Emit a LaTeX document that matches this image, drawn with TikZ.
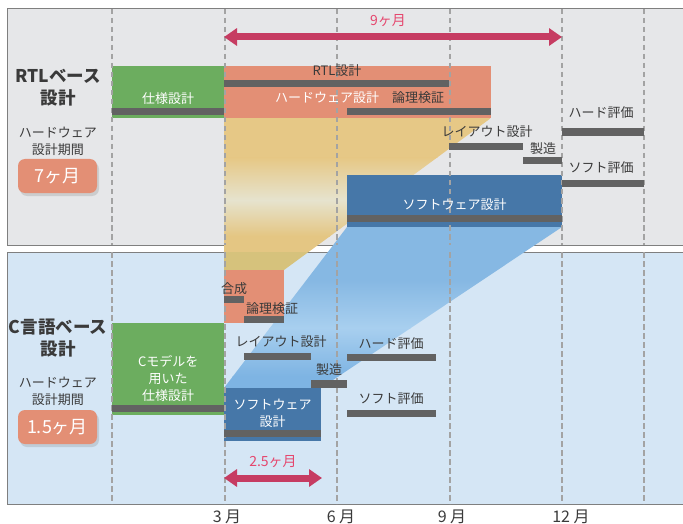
\documentclass[tikz,border=0pt]{standalone}
\usepackage{fontspec}
\setmainfont{Noto Sans CJK JP}
\usetikzlibrary{calc, arrows.meta, shadows}
\definecolor{rtlbg}{HTML}{E6E7E9}
\definecolor{cbg}{HTML}{D5E6F5}
\definecolor{frame}{HTML}{7F7F7F}
\definecolor{gridgrey}{HTML}{A3A3A3}
\definecolor{bargrey}{HTML}{626262}
\definecolor{specgreen}{HTML}{6CAD5F}
\definecolor{hwsalmon}{HTML}{E38F75}
\definecolor{swblue}{HTML}{4677A8}
\definecolor{spanred}{HTML}{C63C62}
\definecolor{spanpink}{HTML}{E5476E}
\definecolor{textgrey}{HTML}{3A3A3A}
\definecolor{handtop}{HTML}{E6C886}
\definecolor{handmid}{HTML}{E6E3CE}
\definecolor{handbot}{HTML}{E4C683}
\definecolor{handlow}{HTML}{D6C27C}
\definecolor{softtop}{HTML}{86B8E3}
\definecolor{softmid}{HTML}{A8CFEF}
\definecolor{softbot}{HTML}{7EB4E3}
\tikzstyle{panel} = [draw=frame, line width=0.9pt]
\tikzstyle{monthline} = [draw=gridgrey, line width=2pt, dash pattern=on 5.5pt off 3.5pt]
\tikzstyle{taskbox} = [rectangle, inner sep=0pt, anchor=north west]
\tikzstyle{bar} = [fill=bargrey]
\tikzstyle{tasktext} = [inner sep=0pt, text=textgrey, font=\fontsize{13}{17}\selectfont, align=center]
\tikzstyle{boxtext} = [tasktext, text=white]
\tikzstyle{heading} = [inner sep=0pt, text=textgrey, font=\bfseries\fontsize{17.5}{22}\selectfont, align=center]
\tikzstyle{periodbox} = [rectangle, rounded corners=7pt, fill=hwsalmon, text=white, minimum width=79pt, minimum height=34pt, font=\fontsize{18}{20}\selectfont, drop shadow={shadow xshift=2pt, shadow yshift=-3pt, opacity=0.25}]
\tikzstyle{spanarrow} = [draw=spanred, line width=7pt, {Triangle[length=13pt, width=17pt]}-{Triangle[length=13pt, width=17pt]}]
\tikzstyle{spantext} = [inner sep=0pt, text=spanpink, font=\fontsize{14}{16}\selectfont]
\tikzstyle{monthtext} = [inner sep=0pt, text=textgrey, font=\fontsize{16}{18}\selectfont]

\begin{document}
\begin{tikzpicture}[x=1pt, y=-1pt]
    \useasboundingbox (0,0) rectangle (683,524);

    % Panels
    \draw [panel, fill=rtlbg] (7,8.5) rectangle (690,245);
    \draw [panel, fill=cbg] (7,252) rectangle (690,504);

    % Hand-over regions
    \begin{scope}
        \clip (224,118) -- (491,118) -- (284,270) -- (224,270) -- cycle;
        \fill [handtop] (224,118) rectangle (491,158);
        \shade [top color=handtop, bottom color=handmid] (224,158) rectangle (491,200);
        \shade [top color=handmid, bottom color=handbot] (224,200) rectangle (491,236);
        \fill [handbot] (224,236) rectangle (491,252);
        \fill [handlow] (224,252) rectangle (491,270);
    \end{scope}
    \begin{scope}
        \clip (347,227) -- (562,227) -- (321,388) -- (224,388) -- cycle;
        \fill [softtop] (224,227) rectangle (562,280);
        \shade [top color=softtop, bottom color=softmid] (224,280) rectangle (562,328);
        \shade [top color=softmid, bottom color=softbot] (224,328) rectangle (562,376);
        \fill [softbot] (224,376) rectangle (562,388);
    \end{scope}

    % Task boxes
    \node (specbox) [taskbox, fill=specgreen, minimum width=112pt, minimum height=52pt] at (112,66) {};
    \node (hwbox) [taskbox, fill=hwsalmon, minimum width=267pt, minimum height=52pt] at (224,66) {};
    \node (swbox) [taskbox, fill=swblue, minimum width=215pt, minimum height=52pt] at (347,175) {};
    \node (cspecbox) [taskbox, fill=specgreen, minimum width=112pt, minimum height=92pt] at (112,323) {};
    \node (synthbox) [taskbox, fill=hwsalmon, minimum width=60pt, minimum height=53pt] at (224,270) {};
    \node (cswbox) [taskbox, fill=swblue, minimum width=97pt, minimum height=53pt] at (224,388) {};

    % Month lines
    \draw [monthline] (112,9) -- (112,245) (112,252) -- (112,504);
    \draw [monthline] (224.5,9) -- (224.5,245) (224.5,252) -- (224.5,504);
    \draw [monthline] (337,9) -- (337,245) (337,252) -- (337,504);
    \draw [monthline] (449.5,9) -- (449.5,245) (449.5,252) -- (449.5,504);
    \draw [monthline] (562,9) -- (562,245) (562,252) -- (562,504);
    \draw [monthline] (644,9) -- (644,245) (644,252) -- (644,504);

    % Bars
    \fill [bar] (112,108) rectangle (224,115);
    \fill [bar] (224,80) rectangle (449,87);
    \fill [bar] (347,108) rectangle (491,115);
    \fill [bar] (449,143) rectangle (523,150);
    \fill [bar] (523,157) rectangle (562,164);
    \fill [bar] (562,128) rectangle (644,136);
    \fill [bar] (562,180) rectangle (644,187);
    \fill [bar] (347,215) rectangle (562,222);
    \fill [bar] (112,405) rectangle (224,412);
    \fill [bar] (224,296) rectangle (244,303);
    \fill [bar] (244,316) rectangle (284,323);
    \fill [bar] (244,353) rectangle (311,360);
    \fill [bar] (311,380) rectangle (347,388);
    \fill [bar] (347,354) rectangle (436,361);
    \fill [bar] (347,410) rectangle (436,417);
    \fill [bar] (224,430) rectangle (321,437);

    % RTL texts
    \node (rtlhead) [heading] at (58,88) {RTLベース\\設計};
    \node (rtlperiodtext) [tasktext] at (58,141.5) {ハードウェア\\設計期間};
    \node (rtlperiod) [periodbox] at (57.5,176) {7ヶ月};
    \node (spectext) [boxtext] at ($(specbox.center)+(0,6)$) {仕様設計};
    \node (rtltext) [tasktext] at (337,71) {RTL設計};
    \node (hwtext) [boxtext] at (327,98) {ハードウェア設計};
    \node (logictext) [tasktext] at (418,98) {論理検証};
    \node (layouttext) [tasktext] at (487,132) {レイアウト設計};
    \node (fabtext) [tasktext] at (543,149) {製造};
    \node (hwevaltext) [tasktext] at (601,113) {ハード評価};
    \node (swevaltext) [tasktext] at (601,168) {ソフト評価};
    \node (swtext) [boxtext] at ($(swbox.center)+(0,3)$) {ソフトウェア設計};

    % C texts
    \node (chead) [heading] at (58,338.5) {C言語ベース\\設計};
    \node (cperiodtext) [tasktext] at (58,391.5) {ハードウェア\\設計期間};
    \node (cperiod) [periodbox] at (57.5,427) {1.5ヶ月};
    \node (cspectext) [boxtext] at ($(cspecbox.center)+(0,9)$) {Cモデルを\\用いた\\仕様設計};
    \node (synthtext) [tasktext] at (234,289) {合成};
    \node (clogictext) [tasktext] at (272,308.5) {論理検証};
    \node (clayouttext) [tasktext] at (281,342) {レイアウト設計};
    \node (cfabtext) [tasktext] at (329,370) {製造};
    \node (chwevaltext) [tasktext] at (391,344) {ハード評価};
    \node (cswevaltext) [tasktext] at (391,399) {ソフト評価};
    \node (cswtext) [boxtext] at ($(cswbox.center)+(0,-1.5)$) {ソフトウェア\\設計};

    % Spans
    \coordinate (ninefrom) at (224,37);
    \coordinate (nineto) at (562,37);
    \draw [spanarrow] (ninefrom) -- (nineto);
    \node (ninetext) [spantext] at (388,21) {9ヶ月};
    \coordinate (twofrom) at (224,478);
    \coordinate (twoto) at (322,478);
    \draw [spanarrow] (twofrom) -- (twoto);
    \node (twotext) [spantext] at (273,462) {2.5ヶ月};

    % Months
    \node (m3) [monthtext] at (227,517) {3 月};
    \node (m6) [monthtext] at (341,517) {6 月};
    \node (m9) [monthtext] at (452,517) {9 月};
    \node (m12) [monthtext] at (571,517) {12 月};
\end{tikzpicture}
\end{document}
